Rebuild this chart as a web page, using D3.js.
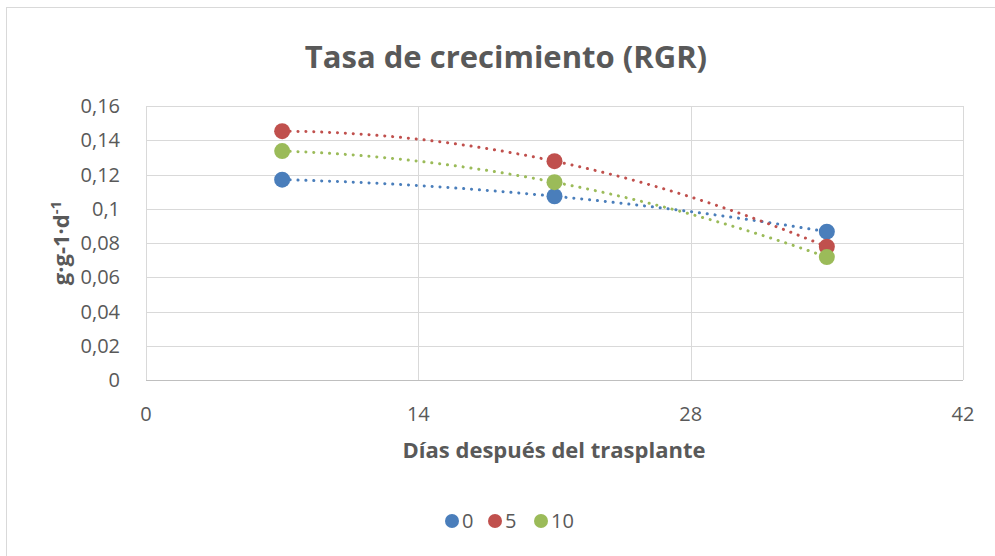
<!DOCTYPE html>
<html>
<head>
<meta charset="utf-8">
<script src="https://cdn.jsdelivr.net/npm/d3@7"></script>
<style>
  body { margin: 0; background: #fff; }
  svg { font-family: "Open Sans", Lato, sans-serif; }
</style>
</head>
<body>
<div id="chart"></div>
<script>
// values
var days = [7, 21, 35];
var series = ["0", "5", "10"];
var rgr0 = [0.117, 0.1073, 0.0866];
var rgr5 = [0.1453, 0.1278, 0.0778];
var rgr10 = [0.1337, 0.1155, 0.0718];
var colors = ["#4a7ebb", "#c0504d", "#9bbb59"];
var xTicks = [0, 14, 28, 42];
var yTicks = [0, 0.02, 0.04, 0.06, 0.08, 0.1, 0.12, 0.14, 0.16];

var width = 995, height = 556;

var svg = d3.select("#chart").append("svg")
    .attr("width", width)
    .attr("height", height);

// outer chart frame
svg.append("rect")
    .attr("x", 6.5).attr("y", 7.5)
    .attr("width", width).attr("height", height)
    .attr("fill", "#fff")
    .attr("stroke", "#d9d9d9");

var x = d3.scaleLinear().domain([0, 42]).range([146, 963]);
var y = d3.scaleLinear().domain([0, 0.16]).range([380, 106]);

// gridlines
svg.append("g").selectAll("line")
    .data(yTicks)
    .join("line")
    .attr("x1", x(0)).attr("x2", x(42))
    .attr("y1", d => Math.round(y(d)) + 0.5).attr("y2", d => Math.round(y(d)) + 0.5)
    .attr("stroke", "#d9d9d9");
svg.append("g").selectAll("line")
    .data(xTicks)
    .join("line")
    .attr("x1", d => Math.round(x(d)) + 0.5).attr("x2", d => Math.round(x(d)) + 0.5)
    .attr("y1", y(0)).attr("y2", y(0.16))
    .attr("stroke", "#d9d9d9");
svg.append("line")
    .attr("x1", x(0)).attr("x2", x(42))
    .attr("y1", Math.round(y(0)) + 0.5).attr("y2", Math.round(y(0)) + 0.5)
    .attr("stroke", "#bfbfbf");

// tick labels
var fmt = d => d === 0 ? "0" : String(d).replace(".", ",");
svg.append("g").selectAll("text")
    .data(yTicks)
    .join("text")
    .attr("x", x(0) - 26)
    .attr("y", d => y(d))
    .attr("dy", "0.35em")
    .attr("text-anchor", "end")
    .attr("fill", "#595959")
    .attr("font-size", 20)
    .text(fmt);
svg.append("g").selectAll("text")
    .data(xTicks)
    .join("text")
    .attr("x", d => x(d))
    .attr("y", 421)
    .attr("text-anchor", "middle")
    .attr("fill", "#595959")
    .attr("font-size", 20)
    .text(d => d);

// titles
svg.append("text")
    .attr("x", 506).attr("y", 68)
    .attr("text-anchor", "middle")
    .attr("fill", "#595959")
    .attr("font-size", 31)
    .attr("font-weight", "bold")
    .text("Tasa de crecimiento (RGR)");
svg.append("text")
    .attr("x", 554).attr("y", 458)
    .attr("text-anchor", "middle")
    .attr("fill", "#595959")
    .attr("font-size", 22)
    .attr("font-weight", "bold")
    .text("Días después del trasplante");
var yl = svg.append("text")
    .attr("transform", "translate(69,243) rotate(-90)")
    .attr("text-anchor", "middle")
    .attr("fill", "#595959")
    .attr("font-size", 22)
    .attr("font-weight", "bold");
yl.append("tspan").text("g·g-1·d");
yl.append("tspan").attr("dy", -8).attr("font-size", 15).text("-1");

// polynomial (order 2) trend line through the three points
function quad(xs, ys) {
  return function(t) {
    var s = 0;
    for (var i = 0; i < 3; i++) {
      var l = 1;
      for (var j = 0; j < 3; j++) if (j !== i) l *= (t - xs[j]) / (xs[i] - xs[j]);
      s += ys[i] * l;
    }
    return s;
  };
}

var allSeries = [rgr0, rgr5, rgr10];
var line = d3.line().x(d => x(d[0])).y(d => y(d[1]));

allSeries.forEach(function(vals, k) {
  var f = quad(days, vals);
  var pts = d3.range(days[0], days[2] + 0.01, 0.25).map(t => [t, f(t)]);
  svg.append("path")
      .attr("d", line(pts))
      .attr("fill", "none")
      .attr("stroke", colors[k])
      .attr("stroke-width", 3)
      .attr("stroke-linecap", "round")
      .attr("stroke-dasharray", "0.1 7.8");
});

allSeries.forEach(function(vals, k) {
  svg.append("g").selectAll("circle")
      .data(vals)
      .join("circle")
      .attr("cx", (d, i) => x(days[i]))
      .attr("cy", d => y(d))
      .attr("r", 8)
      .attr("fill", colors[k]);
});

// legend
var legX = [452, 495, 541];
var leg = svg.append("g");
series.forEach(function(s, k) {
  leg.append("circle")
      .attr("cx", legX[k]).attr("cy", 521)
      .attr("r", 7)
      .attr("fill", colors[k]);
  leg.append("text")
      .attr("x", legX[k] + 10).attr("y", 521)
      .attr("dy", "0.35em")
      .attr("fill", "#595959")
      .attr("font-size", 20)
      .text(s);
});
</script>
</body>
</html>
